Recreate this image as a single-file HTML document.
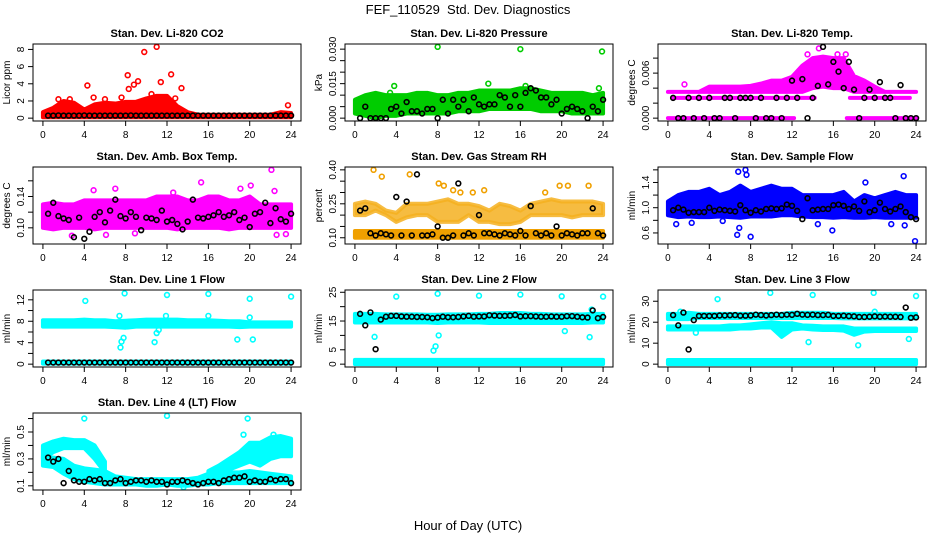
<!DOCTYPE html>
<html><head><meta charset="utf-8">
<style>
html,body{margin:0;padding:0;background:#fff;}
svg{display:block;font-family:"Liberation Sans",Arial,sans-serif;}
</style></head>
<body>
<svg id="chart" width="936" height="540" viewBox="0 0 936 540" xmlns="http://www.w3.org/2000/svg">
<text x="468" y="14" font-size="13" text-anchor="middle">FEF_110529&#160; Std. Dev. Diagnostics</text>
<text x="468" y="530" font-size="13" text-anchor="middle">Hour of Day (UTC)</text>
</svg>
<script>
const HOURS=[0,1,2,3,4,5,6,7,8,9,10,11,12,13,14,15,16,17,18,19,20,21,22,23,24];
const BX=[0.5,1,1.5,2,2.5,3,3.5,4,4.5,5,5.5,6,6.5,7,7.5,8,8.5,9,9.5,10,10.5,11,11.5,12,12.5,13,13.5,14,14.5,15,15.5,16,16.5,17,17.5,18,18.5,19,19.5,20,20.5,21,21.5,22,22.5,23,23.5,24];
const X_TICKS=[0,4,8,12,16,20,24];

// Panel 1: CO2
const CO2_LO=[0.1,0.1,0.1,0.1,0.1,0.1,0.1,0.1,0.1,0.1,0.1,0.1,0.1,0.1,0.1,0.1,0.1,0.1,0.1,0.1,0.1,0.1,0.1,0.1,0.1];
const CO2_HI=[0.7,1.2,2.0,1.8,1.0,1.6,1.8,1.7,1.9,1.9,2.3,2.6,2.6,1.4,0.7,0.4,0.4,0.4,0.4,0.4,0.4,0.4,0.4,0.7,0.6];
const CO2_OX=[4.3,8.2,8.3,8.8,9.2,9.8,11.0,11.4,12.4,13.4,4.9,10.5,12.8,23.7,6.0,7.6,1.5,2.6];
const CO2_OY=[3.8,5.0,3.4,3.9,4.3,7.7,8.3,4.2,5.1,3.5,2.4,2.8,2.3,1.5,2.2,2.4,2.2,2.2];
const CO2_B=[0.3,0.3,0.32,0.3,0.3,0.3,0.3,0.32,0.3,0.3,0.3,0.3,0.3,0.3,0.3,0.3,0.32,0.3,0.3,0.3,0.3,0.3,0.3,0.3,0.3,0.3,0.3,0.3,0.3,0.3,0.3,0.3,0.3,0.3,0.3,0.3,0.3,0.3,0.3,0.3,0.3,0.3,0.3,0.3,0.3,0.3,0.3,0.3];
// Panel 2: Pressure
const PR_LO=[0.002,0.001,0.000,0.001,0.001,0.002,0.002,0.002,0.002,0.002,0.003,0.003,0.003,0.004,0.004,0.004,0.004,0.004,0.003,0.003,0.003,0.002,0.002,0.002,0.002];
const PR_HI=[0.008,0.010,0.011,0.010,0.010,0.010,0.011,0.011,0.010,0.010,0.011,0.011,0.012,0.012,0.012,0.012,0.013,0.013,0.012,0.011,0.011,0.011,0.011,0.010,0.011];
const PR_OX=[8,16,23.9,3.8,12.9,16.5,23.6,3.4];
const PR_OY=[0.031,0.030,0.029,0.014,0.015,0.014,0.013,0.011];
const PR_B=[0,0.005,0,0,0,0,0.004,0.005,0.002,0.007,0.003,0.003,0.002,0.004,0.004,0.000,0.008,0.002,0.008,0.005,0.008,0.003,0.009,0.006,0.005,0.006,0.006,0.010,0.009,0.005,0.010,0.005,0.011,0.013,0.012,0.009,0.009,0.006,0.008,0.002,0.004,0.005,0.004,0.003,0.000,0.005,0.003,0.008];
// Panel 3: Temp
const TP_LO=[0.0035,0.0035,0.0035,0.0035,0.0035,0.0035,0.0035,0.0035,0.0035,0.0035,0.0035,0.0035,0.0035,0.0035,0.004,0.0042,0.004,0.004,0.0035,0.0035,0.0035,0.0035,0.0035,0.0035,0.0035];
const TP_HI=[0.0035,0.0035,0.0035,0.0035,0.0042,0.0042,0.0042,0.0042,0.0043,0.0046,0.005,0.005,0.0055,0.007,0.008,0.0082,0.008,0.008,0.0056,0.005,0.0042,0.0035,0.0035,0.0035,0.0035];
const TP_ROWS=[[0,12.2,0,0],[17.3,24,0,0],[0.4,14.2,0.0027,0.0027],[17.6,23.4,0.0027,0.0027]];
const TP_OX=[1.6,14.6,13.5,16.4,17.2,14];
const TP_OY=[0.0045,0.0093,0.0085,0.0085,0.0085,0.0075];
const TP_B=[0.0027,0,0,0.0027,0,0.0027,0,0.0027,0,0,0.0027,0.0027,0,0.0027,0.0027,0.0027,0,0.0027,0,0,0.0027,0,0.0027,0.005,0.0027,0.0052,0,0.0027,0.0043,0.0095,0.0045,0.0075,0.0062,0.004,0.0075,0.0038,0,0.0027,0.0038,0.0027,0.0048,0.0027,0.0027,0,0.0044,0,0,0];
// Panel 4: Amb box temp
const AM_LO=[0.100,0.098,0.100,0.100,0.100,0.098,0.100,0.100,0.100,0.100,0.100,0.100,0.100,0.098,0.100,0.100,0.100,0.100,0.098,0.100,0.100,0.100,0.100,0.100,0.100];
const AM_HI=[0.130,0.132,0.130,0.130,0.135,0.135,0.135,0.135,0.135,0.135,0.135,0.140,0.140,0.140,0.135,0.135,0.140,0.140,0.135,0.135,0.140,0.130,0.130,0.130,0.130];
const AM_OX=[22.1,15.3,7.0,4.9,19.1,20.1,22.4,22.6,6.1,23.5,12.6,2.8,8.9];
const AM_OY=[0.174,0.158,0.150,0.148,0.150,0.154,0.147,0.091,0.091,0.092,0.145,0.090,0.093];
const AM_B=[0.118,0.132,0.115,0.112,0.110,0.088,0.113,0.086,0.095,0.114,0.120,0.107,0.122,0.136,0.115,0.112,0.120,0.114,0.097,0.113,0.112,0.110,0.122,0.108,0.110,0.105,0.098,0.108,0.136,0.113,0.112,0.114,0.116,0.120,0.114,0.116,0.120,0.110,0.113,0.101,0.118,0.120,0.132,0.106,0.125,0.111,0.108,0.118];
// Panel 5: Gas stream RH
const RH_LO=[0.10,0.10,0.10,0.10,0.10,0.10,0.10,0.10,0.10,0.10,0.10,0.10,0.10,0.10,0.10,0.10,0.10,0.10,0.10,0.10,0.10,0.10,0.10,0.10,0.10];
const RH_HI=[0.13,0.13,0.13,0.13,0.13,0.13,0.13,0.13,0.13,0.13,0.13,0.13,0.13,0.13,0.13,0.13,0.13,0.13,0.13,0.13,0.13,0.13,0.13,0.13,0.13];
const RH_LO2=[0.20,0.20,0.22,0.20,0.17,0.19,0.20,0.20,0.17,0.17,0.17,0.20,0.17,0.17,0.16,0.16,0.17,0.20,0.20,0.20,0.20,0.19,0.20,0.20,0.20];
const RH_HI2=[0.25,0.26,0.25,0.22,0.21,0.25,0.25,0.25,0.26,0.27,0.25,0.25,0.24,0.22,0.25,0.24,0.22,0.25,0.26,0.27,0.26,0.26,0.26,0.26,0.25];
const RH_OX=[1.8,2.6,5.3,8.1,8.6,9.5,10.2,12.5,11.4,19.8,20.6,22.6,18.4];
const RH_OY=[0.40,0.37,0.38,0.34,0.33,0.31,0.30,0.31,0.30,0.33,0.33,0.33,0.30];
const RH_B=[0.22,0.23,0.12,0.11,0.12,0.115,0.11,0.28,0.11,0.26,0.11,0.38,0.11,0.11,0.115,0.15,0.10,0.10,0.11,0.34,0.11,0.12,0.11,0.20,0.12,0.12,0.115,0.11,0.12,0.115,0.11,0.13,0.11,0.24,0.12,0.11,0.12,0.11,0.15,0.11,0.12,0.115,0.11,0.12,0.12,0.23,0.12,0.11];
// Panel 6: Sample flow
const SF_LO=[0.88,0.85,0.86,0.85,0.85,0.86,0.85,0.84,0.86,0.86,0.86,0.88,0.88,0.86,0.85,0.85,0.84,0.85,0.84,0.84,0.85,0.84,0.84,0.84,0.84];
const SF_HI=[1.10,1.20,1.25,1.25,1.30,1.20,1.25,1.35,1.25,1.30,1.35,1.30,1.30,1.20,1.20,1.20,1.20,1.25,1.10,1.20,1.15,1.20,1.25,1.20,1.20];
const SF_OX=[0.8,2.3,5.3,6.7,6.8,7.5,7.6,8.0,6.9,14.5,15.9,19.1,21.6,22.8,23.9,22.9];
const SF_OY=[0.74,0.76,0.79,0.57,1.57,1.60,1.52,0.54,0.68,0.74,0.64,1.40,0.74,1.50,0.47,0.72];
const SF_B=[0.96,1.00,0.97,0.92,0.93,0.93,0.93,1.00,0.95,0.97,0.96,0.95,0.94,1.04,0.96,0.92,0.96,0.94,0.98,0.99,0.98,0.99,1.05,1.03,0.95,0.82,1.15,0.96,0.97,0.98,0.98,1.04,1.05,1.03,0.98,1.02,0.95,1.10,0.93,0.96,1.08,0.98,0.94,0.98,1.02,0.93,0.85,0.82];
// Panel 7: Line 1
const L1_LO=[7.0,7.0,7.0,7.0,7.0,7.0,7.0,6.9,6.8,7.0,7.0,7.0,7.0,7.0,7.0,7.0,7.0,7.0,7.0,6.9,7.0,7.0,7.0,7.0,7.0];
const L1_HI=[8.2,8.2,8.2,8.2,8.3,8.2,8.2,8.0,8.1,8.2,8.3,8.3,8.3,8.3,8.2,8.2,8.2,8.1,8.0,8.0,7.8,7.8,7.8,7.8,7.8];
const L1_ROWS=[[0,24,0.1,0.5]];
const L1_OX=[4.1,7.9,12,16,20,24,7.5,7.6,7.8,7.4,11.9,16,20,18.8,20.3,10.8,11,11.2];
const L1_OY=[11.8,13.2,12.9,13.1,12.2,12.6,3.1,4.2,4.9,9.0,9.0,9.0,8.7,4.6,4.6,4.1,5.8,6.4];
const L1_B=[0.3,0.3,0.3,0.3,0.3,0.3,0.3,0.3,0.3,0.3,0.3,0.3,0.3,0.3,0.3,0.3,0.3,0.3,0.3,0.3,0.3,0.3,0.3,0.3,0.3,0.3,0.3,0.3,0.3,0.3,0.3,0.3,0.3,0.3,0.3,0.3,0.3,0.3,0.3,0.3,0.3,0.3,0.3,0.3,0.3,0.3,0.3,0.3];
// Panel 8: Line 2
const L2_LO=[14.5,14.5,14.5,14.5,14.5,14.5,14.5,14.5,14.3,14.5,14.5,14.5,14.5,14.3,14.3,14.3,14.3,14.3,14.3,14.3,14.3,14.3,14.3,14.5,14.5];
const L2_HI=[17.5,17.5,17.5,17.3,17.3,17.3,17.3,17.2,17.2,17.3,17.3,17.3,17.5,17.5,17.8,17.8,17.8,17.5,17.5,17.3,17.3,17.3,17.3,17.5,17.5];
const L2_ROWS=[[0,24,0,1.5]];
const L2_OX=[4,8,12,16,20,24,1.9,7.6,7.8,8.1,20.3,22.7,22.9];
const L2_OY=[23.5,24.5,23.8,24.2,23.6,23.5,9.5,4.7,6.2,10,11.5,9.4,19];
const L2_B=[17.5,13.5,18,5.2,15.5,16.5,16.8,16.8,16.6,16.5,16.5,16.4,16.4,16.3,16,16.2,16.5,16.3,16.3,16.4,16.6,16.8,16.5,16.6,16.6,17,16.9,16.8,16.8,16.9,17.1,16.6,16.7,16.7,16.6,16.5,16.5,16.6,16.5,16.5,16.7,16.7,16.5,16.3,16.2,18.7,16,16.4];
// Panel 9: Line 3
const L3_LO=[21.5,21.5,21.5,22,22,22,22,22,22,22,22,22,22,22,22,22,22,21.8,21.8,21.8,21.8,21.8,21.8,21.8,21.8];
const L3_HI=[24,24,24.5,24,24,24,24,24,24,24,24,24,24.5,24.5,24.5,24.5,24,24,24,24,24,24,24,24,24];
const L3_LO2=[16.5,16.5,16.5,16.5,16.5,16.5,16.5,17,17,17.5,17.5,13,16.5,17,16.5,16.3,16.3,16,14,15.5,15.8,15.8,15.8,15.8,15.8];
const L3_HI2=[18,18,18,18,18,18,18.5,18.5,19,19.5,20,19.5,19.5,18.5,18.3,18,18,18,17,17,17,17,17,17,17];
const L3_ROWS=[[0,24,0,2]];
const L3_OX=[4.8,9.9,14,19.9,24,23.3,18.4,13.6,2.7,20,1.2];
const L3_OY=[31,34,33,34,32.5,12,9,10.5,15,25,25];
const L3_B=[23.4,18.5,24.6,7,21,23,23,23,23,23.2,23.2,23.3,23.4,23.1,23.1,23.2,23.6,23.4,23.2,23.4,23.6,23.4,23.6,23.5,24,23.6,23.5,23.6,23.4,23.4,23.5,23,23,23.1,22.9,22.8,22.5,22.5,22.6,22.8,22.6,22.7,22.6,22.6,22.5,27,22.1,22.3];
// Panel 10: Line 4
const L4_LO=[0.25,0.24,0.19,0.15,0.13,0.12,0.11,0.11,0.11,0.11,0.10,0.10,0.11,0.10,0.10,0.11,0.11,0.12,0.12,0.12,0.12,0.12,0.12,0.12,0.12];
const L4_HI=[0.32,0.31,0.30,0.25,0.23,0.22,0.21,0.17,0.16,0.15,0.15,0.15,0.15,0.15,0.15,0.16,0.19,0.20,0.20,0.20,0.21,0.20,0.19,0.18,0.17];
const L4_LO2=[0.30,0.35,0.38,0.38,0.38,0.30,0.20,null,null,null,null,null,null,null,null,null,0.18,0.20,0.22,0.25,0.28,0.25,0.30,0.32,0.32];
const L4_HI2=[0.40,0.43,0.45,0.44,0.44,0.40,0.28,null,null,null,null,null,null,null,null,null,0.21,0.25,0.30,0.35,0.42,0.42,0.46,0.47,0.45];
const L4_OX=[4,12,19.8,23.8,13.6,19.4,22.3];
const L4_OY=[0.60,0.62,0.60,0.35,0.09,0.48,0.48];
const L4_B=[0.31,0.28,0.30,0.12,0.21,0.14,0.13,0.13,0.15,0.14,0.15,0.12,0.12,0.14,0.15,0.12,0.13,0.14,0.14,0.13,0.14,0.13,0.13,0.11,0.13,0.13,0.14,0.13,0.12,0.11,0.12,0.13,0.13,0.12,0.14,0.15,0.16,0.16,0.17,0.13,0.14,0.13,0.13,0.15,0.14,0.15,0.15,0.12];

const NS='http://www.w3.org/2000/svg';
const svg=document.getElementById('chart');
function mk(tag,attrs,parent){const e=document.createElementNS(NS,tag);for(const k in attrs)e.setAttribute(k,attrs[k]);(parent||svg).appendChild(e);return e;}

const COLS=[33,345,658], ROWS=[44,167,290,413], BW=268, BH=77;
const panels=[
 {name:'co2',title:'Stan. Dev. Li-820 CO2',ylab:'Licor ppm',ylim:[0,8.3],ticks:[0,2,4,6,8],labels:[0,2,4,6,8],dec:0,col:'#ff0000',lo:CO2_LO,hi:CO2_HI,ox:CO2_OX,oy:CO2_OY,b:CO2_B},
 {name:'pressure',title:'Stan. Dev. Li-820 Pressure',ylab:'kPa',ylim:[0,0.031],ticks:[0,0.005,0.01,0.015,0.02,0.025,0.03],labels:[0,0.015,0.03],dec:3,col:'#00cc00',lo:PR_LO,hi:PR_HI,ox:PR_OX,oy:PR_OY,b:PR_B},
 {name:'temp',title:'Stan. Dev. Li-820 Temp.',ylab:'degrees C',ylim:[0,0.0095],ticks:[0,0.002,0.004,0.006,0.008],labels:[0,0.006],dec:3,col:'#ff00ff',lo:TP_LO,hi:TP_HI,rows:TP_ROWS,ox:TP_OX,oy:TP_OY,b:TP_B},
 {name:'amb-box-temp',title:'Stan. Dev. Amb. Box Temp.',ylab:'degrees C',ylim:[0.083,0.174],ticks:[0.10,0.12,0.14,0.16],labels:[0.10,0.14],dec:2,col:'#ff00ff',lo:AM_LO,hi:AM_HI,ox:AM_OX,oy:AM_OY,b:AM_B},
 {name:'gas-rh',title:'Stan. Dev. Gas Stream RH',ylab:'percent',ylim:[0.085,0.40],ticks:[0.10,0.15,0.20,0.25,0.30,0.35,0.40],labels:[0.10,0.25,0.40],dec:2,col:'#f0a000',col2:'#f5b020',lo:RH_LO,hi:RH_HI,lo2:RH_LO2,hi2:RH_HI2,op2:0.85,ox:RH_OX,oy:RH_OY,b:RH_B},
 {name:'sample-flow',title:'Stan. Dev. Sample Flow',ylab:'ml/min',ylim:[0.47,1.6],ticks:[0.6,0.8,1.0,1.2,1.4,1.6],labels:[0.6,1.0,1.4],dec:1,col:'#0000ff',lo:SF_LO,hi:SF_HI,ox:SF_OX,oy:SF_OY,b:SF_B},
 {name:'line1-flow',title:'Stan. Dev. Line 1 Flow',ylab:'ml/min',ylim:[0,13.3],ticks:[0,2,4,6,8,10,12],labels:[0,4,8,12],dec:0,col:'#00ffff',lo:L1_LO,hi:L1_HI,rows:L1_ROWS,ox:L1_OX,oy:L1_OY,b:L1_B},
 {name:'line2-flow',title:'Stan. Dev. Line 2 Flow',ylab:'ml/min',ylim:[0,24.8],ticks:[0,5,10,15,20,25],labels:[0,5,15,25],dec:0,col:'#00ffff',lo:L2_LO,hi:L2_HI,rows:L2_ROWS,ox:L2_OX,oy:L2_OY,b:L2_B},
 {name:'line3-flow',title:'Stan. Dev. Line 3 Flow',ylab:'ml/min',ylim:[0,34],ticks:[0,10,20,30],labels:[0,10,20,30],dec:0,col:'#00ffff',lo:L3_LO,hi:L3_HI,lo2:L3_LO2,hi2:L3_HI2,rows:L3_ROWS,ox:L3_OX,oy:L3_OY,b:L3_B},
 {name:'line4-flow',title:'Stan. Dev. Line 4 (LT) Flow',ylab:'ml/min',ylim:[0.09,0.62],ticks:[0.1,0.2,0.3,0.4,0.5,0.6],labels:[0.1,0.3,0.5],dec:1,col:'#00ffff',lo:L4_LO,hi:L4_HI,lo2:L4_LO2,hi2:L4_HI2,ox:L4_OX,oy:L4_OY,b:L4_B}
];

function band(g,lo,hi,xs,X,Y,col,op){
  let seg=[];
  const flush=()=>{ if(seg.length>1){
    const pts=seg.map(i=>X(xs[i])+','+Y(hi[i])).concat(seg.slice().reverse().map(i=>X(xs[i])+','+Y(lo[i])));
    const p=mk('polygon',{points:pts.join(' '),fill:col,stroke:col,'stroke-width':4,'stroke-linejoin':'round','fill-opacity':op,'stroke-opacity':op},g);
    
    
  } seg=[]; };
  for(let i=0;i<xs.length;i++){ if(lo[i]==null||hi[i]==null) flush(); else seg.push(i); }
  flush();
}

panels.forEach((P,k)=>{
  const L=COLS[k%3], T=ROWS[Math.floor(k/3)];
  const g=mk('g',{});
  
  
  const X=x=>L+(x+0.96)/25.92*BW;
  const r=P.ylim[1]-P.ylim[0];
  const y0=P.ylim[0]-0.04*r, y1=P.ylim[1]+0.04*r;
  const Y=y=>T+BH-(y-y0)/(y1-y0)*BH;
  const clipId='clip'+k;
  const cp=mk('clipPath',{id:clipId},g); mk('rect',{x:L,y:T,width:BW,height:BH},cp);
  const data=mk('g',{'clip-path':'url(#'+clipId+')'},g);
  
  
  band(data,P.lo,P.hi,HOURS,X,Y,P.col,1);
  if(P.lo2) band(data,P.lo2,P.hi2,HOURS,X,Y,P.col2||P.col,P.op2||1);
  (P.rows||[]).forEach(rw=>{
    const lo=[rw[2],rw[2]], hi=[rw[3],rw[3]];
    band(data,lo,hi,[rw[0],rw[1]],X,Y,P.col,1);
  });
  P.ox.forEach((x,i)=>{
    const c=mk('circle',{cx:X(x),cy:Y(P.oy[i]),r:2.4,fill:'none',stroke:P.col,'stroke-width':1.6},data);
    
    
  });
  P.b.forEach((v,i)=>{
    const c=mk('circle',{cx:X(BX[i]),cy:Y(v),r:2.4,fill:'none',stroke:'#000','stroke-width':1.6},data);
    
    
  });
  const box=mk('rect',{x:L,y:T,width:BW,height:BH,fill:'none',stroke:'#000','stroke-width':1},g);
  
  
  const tt=mk('text',{x:L+BW/2,y:T-7,'font-size':11,'font-weight':'bold','text-anchor':'middle'},g);
  tt.textContent=P.title;
  
  
  X_TICKS.forEach(t=>{
    mk('line',{x1:X(t),x2:X(t),y1:T+BH,y2:T+BH+5,stroke:'#000'},g);
    const tx=mk('text',{x:X(t),y:T+BH+17,'font-size':10,'text-anchor':'middle'},g);
    tx.textContent=t;
    
    
  });
  P.ticks.forEach(t=>{ mk('line',{x1:L-5,x2:L,y1:Y(t),y2:Y(t),stroke:'#000'},g); });
  P.labels.forEach(t=>{
    const yy=Y(t), xx=L-9;
    const tx=mk('text',{x:xx,y:yy,'font-size':10,'text-anchor':'middle',transform:'rotate(-90 '+xx+' '+yy+')'},g);
    tx.textContent=t.toFixed(P.dec);
    
    
  });
  const yl=mk('text',{x:L-23,y:T+BH/2,'font-size':10,'text-anchor':'middle',transform:'rotate(-90 '+(L-23)+' '+(T+BH/2)+')'},g);
  yl.textContent=P.ylab;
  
  
});
</script>
</body></html>
